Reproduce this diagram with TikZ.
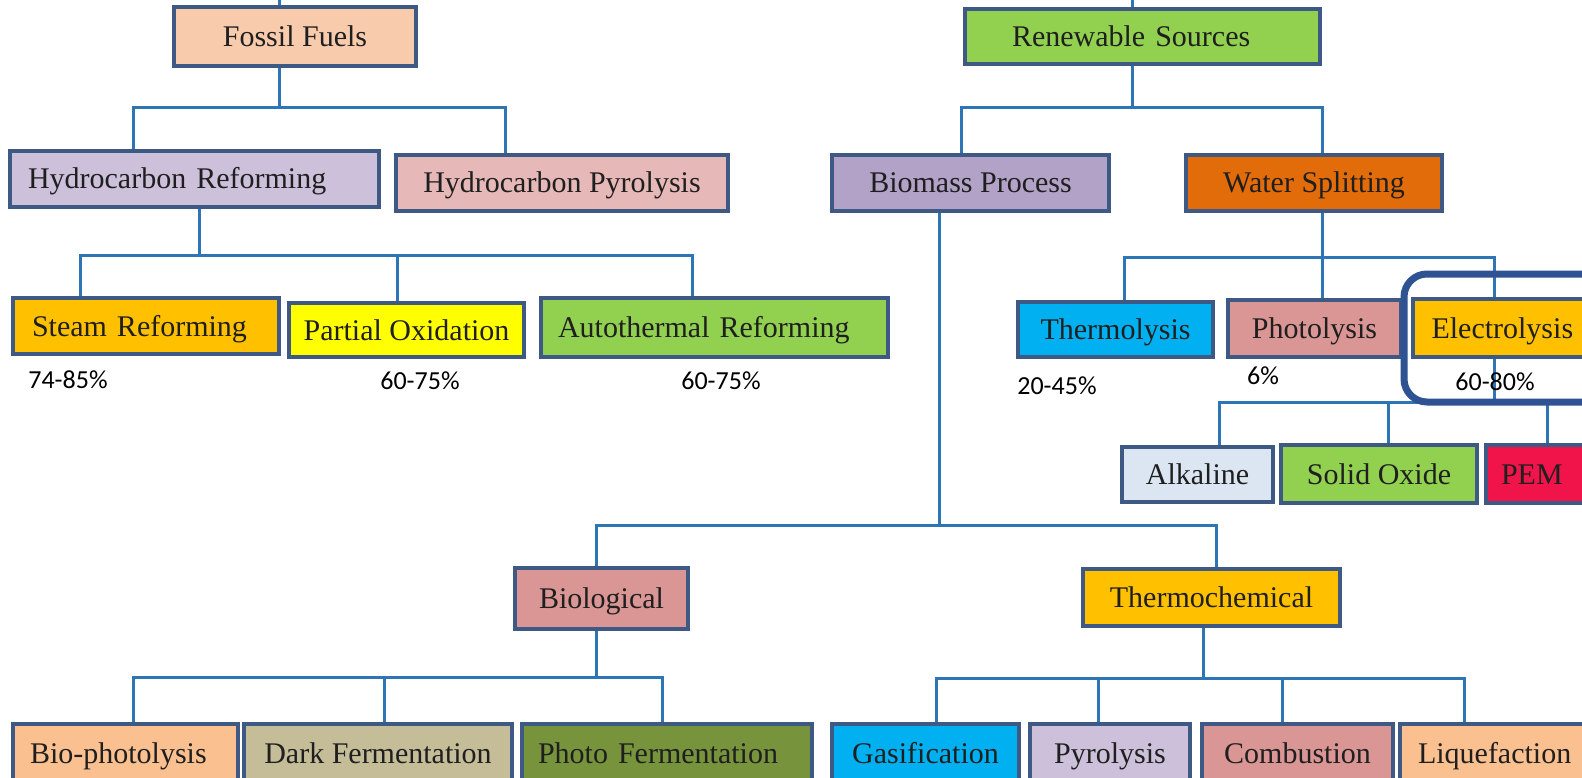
\documentclass[tikz,border=0pt]{standalone}
\usepackage{fontspec}
\setmainfont{Liberation Serif}
\newfontfamily\pctfont{Carlito}
\usetikzlibrary{backgrounds}
\definecolor{bordc}{HTML}{3E5A84}
\definecolor{connc}{HTML}{2E75B6}
\definecolor{hlc}{HTML}{2F5293}
\definecolor{cpeach}{HTML}{F8CBAD}
\definecolor{clav}{HTML}{CCC0DA}
\definecolor{cpink}{HTML}{E6B9B8}
\definecolor{camber}{HTML}{FFC000}
\definecolor{cyellow}{HTML}{FFFF00}
\definecolor{cgreen}{HTML}{92D050}
\definecolor{cpurple}{HTML}{B3A2C7}
\definecolor{corange}{HTML}{E36C0A}
\definecolor{ccyan}{HTML}{00B0F0}
\definecolor{crose}{HTML}{D99694}
\definecolor{cpale}{HTML}{DCE6F2}
\definecolor{ccrimson}{HTML}{F0144B}
\definecolor{capricot}{HTML}{FAC090}
\definecolor{ckhaki}{HTML}{C4BD97}
\definecolor{colive}{HTML}{77933C}
\newcommand{\bx}[8][]{%
  \node[box, fill=#7, minimum width={#5pt-#3pt}, minimum height={#6pt-#4pt}, #1]
    (#2) at ({(#3+#5)/2},{(#4+#6)/2}) {#8};}
\begin{document}
\begin{tikzpicture}[x=1pt,y=-1pt,
  box/.style={draw=bordc, line width=4pt, inner sep=0pt, text height=24pt, text depth=4pt,
    font=\fontsize{30}{36}\selectfont, text=black!88},
  conn/.style={draw=connc, line width=3pt},
  pct/.style={font=\pctfont\fontsize{26}{30}\selectfont, inner sep=0pt},
  hl/.style={draw=hlc, line width=7pt, rounded corners=23pt}]
\useasboundingbox (0,0) rectangle (1582,778);
\clip (0,0) rectangle (1582,778);

% ---- Fossil side ----
\bx{ff}{174}{7}{416}{66}{cpeach}{Fossil Fuels}
\bx[text width=333pt, align=left]{hr}{10}{151}{379}{207}{clav}{Hydrocarbon Reforming}
\bx{hp}{396}{155}{728}{211}{cpink}{Hydrocarbon Pyrolysis}
\bx[text width=228pt, align=left]{steam}{13}{298}{279}{354}{camber}{Steam Reforming}
\bx{pox}{289}{303}{524}{357}{cyellow}{Partial Oxidation}
\bx[text width=313pt, align=left]{atr}{541}{298}{888}{357}{cgreen}{Autothermal Reforming}
\node[pct] (p1) at (68,380) {74-85\%};
\node[pct] (p2) at (420,381) {60-75\%};
\node[pct] (p3) at (721,381) {60-75\%};

% ---- Renewable side ----
\bx[text width=261pt, align=left]{rs}{965}{9}{1320}{64}{cgreen}{Renewable Sources}
\bx{bm}{832}{155}{1109}{211}{cpurple}{Biomass Process}
\bx{ws}{1186}{155}{1442}{211}{corange}{Water Splitting}
\bx{thl}{1018}{302}{1213}{357}{ccyan}{Thermolysis}
\bx{phl}{1228}{300}{1401}{357}{crose}{Photolysis}
\bx[text width=150pt, align=left]{ell}{1413}{299}{1600}{357}{camber}{Electrolysis}
\node[pct] (p4) at (1057,386) {20-45\%};
\node[pct] (p5) at (1263,376) {6\%};
\node[pct] (p6) at (1495,382) {60-80\%};
\bx{alk}{1122}{447}{1273}{502}{cpale}{Alkaline}
\bx{sox}{1281}{445}{1477}{503}{cgreen}{Solid Oxide}
\bx[text width=84pt, align=left]{pem}{1486}{445}{1600}{503}{ccrimson}{PEM}
\bx{bio}{515}{568}{688}{629}{crose}{Biological}
\bx{tch}{1083}{569}{1340}{626}{camber}{Thermochemical}
\bx[text width=191pt, align=left]{bph}{13}{724}{238}{782}{capricot}{Bio-photolysis}
\bx{dkf}{244}{724}{512}{782}{ckhaki}{Dark Fermentation}
\bx[text width=258pt, align=left]{phf}{522}{724}{812}{782}{colive}{Photo Fermentation}
\bx{gas}{832}{724}{1019}{782}{ccyan}{Gasification}
\bx{pyr}{1030}{724}{1190}{782}{clav}{Pyrolysis}
\bx{cmb}{1202}{724}{1393}{782}{crose}{Combustion}
\bx[text width=164pt, align=left]{liq}{1400}{724}{1600}{782}{capricot}{Liquefaction}

% ---- highlight ----
\draw[hl] (1404,274) rectangle (1640,402);

% ---- connectors ----
\begin{pgfonlayer}{background}
\fill[white] (0,0) rectangle (1582,778);
% fossil
\coordinate (fftop) at (279,-5);
\coordinate (j1) at (279,108);
\coordinate (b1l) at (133,108);
\coordinate (b1r) at (505,108);
\draw[conn] (fftop) -- (ff.north -| fftop);
\draw[conn] (ff.south -| j1) -- (j1);
\draw[conn] (hr.north -| b1l) -- (b1l) -- (b1r) -- (hp.north -| b1r);
\coordinate (j2) at (199,255);
\coordinate (b2l) at (80,255);
\coordinate (b2m) at (397,255);
\coordinate (b2r) at (692,255);
\draw[conn] (hr.south -| j2) -- (j2);
\draw[conn] (steam.north -| b2l) -- (b2l) -- (b2r) -- (atr.north -| b2r);
\draw[conn] (b2m) -- (pox.north -| b2m);
% renewable
\coordinate (rstop) at (1132,-5);
\coordinate (j3) at (1132,108);
\coordinate (b3l) at (961,108);
\coordinate (b3r) at (1322,108);
\draw[conn] (rstop) -- (rs.north -| rstop);
\draw[conn] (rs.south -| j3) -- (j3);
\draw[conn] (bm.north -| b3l) -- (b3l) -- (b3r) -- (ws.north -| b3r);
\coordinate (j4) at (1322,257);
\coordinate (b4l) at (1124,257);
\coordinate (b4r) at (1494,257);
\draw[conn] (ws.south -| j4) -- (j4);
\draw[conn] (thl.north -| b4l) -- (b4l) -- (b4r) -- (ell.north -| b4r);
\draw[conn] (j4) -- (phl.north -| j4);
\coordinate (j5) at (1494,402);
\coordinate (b5l) at (1219,402);
\coordinate (b5m) at (1388,402);
\coordinate (b5r) at (1547,402);
\draw[conn] (ell.south -| j5) -- (j5);
\draw[conn] (alk.north -| b5l) -- (b5l) -- (b5r) -- (pem.north -| b5r);
\draw[conn] (b5m) -- (sox.north -| b5m);
% biomass
\coordinate (j6) at (939,525);
\coordinate (b6l) at (596,525);
\coordinate (b6r) at (1216,525);
\draw[conn] (bm.south -| j6) -- (j6);
\draw[conn] (bio.north -| b6l) -- (b6l) -- (b6r) -- (tch.north -| b6r);
\coordinate (j7) at (596,677);
\coordinate (b7l) at (133,677);
\coordinate (b7m) at (384,677);
\coordinate (b7r) at (662,677);
\draw[conn] (bio.south -| j7) -- (j7);
\draw[conn] (bph.north -| b7l) -- (b7l) -- (b7r) -- (phf.north -| b7r);
\draw[conn] (b7m) -- (dkf.north -| b7m);
\coordinate (j8) at (1203,678);
\coordinate (b8l) at (936,678);
\coordinate (b8a) at (1098,678);
\coordinate (b8b) at (1282,678);
\coordinate (b8r) at (1464,678);
\draw[conn] (tch.south -| j8) -- (j8);
\draw[conn] (gas.north -| b8l) -- (b8l) -- (b8r) -- (liq.north -| b8r);
\draw[conn] (b8a) -- (pyr.north -| b8a);
\draw[conn] (b8b) -- (cmb.north -| b8b);
\end{pgfonlayer}
\end{tikzpicture}
\end{document}
